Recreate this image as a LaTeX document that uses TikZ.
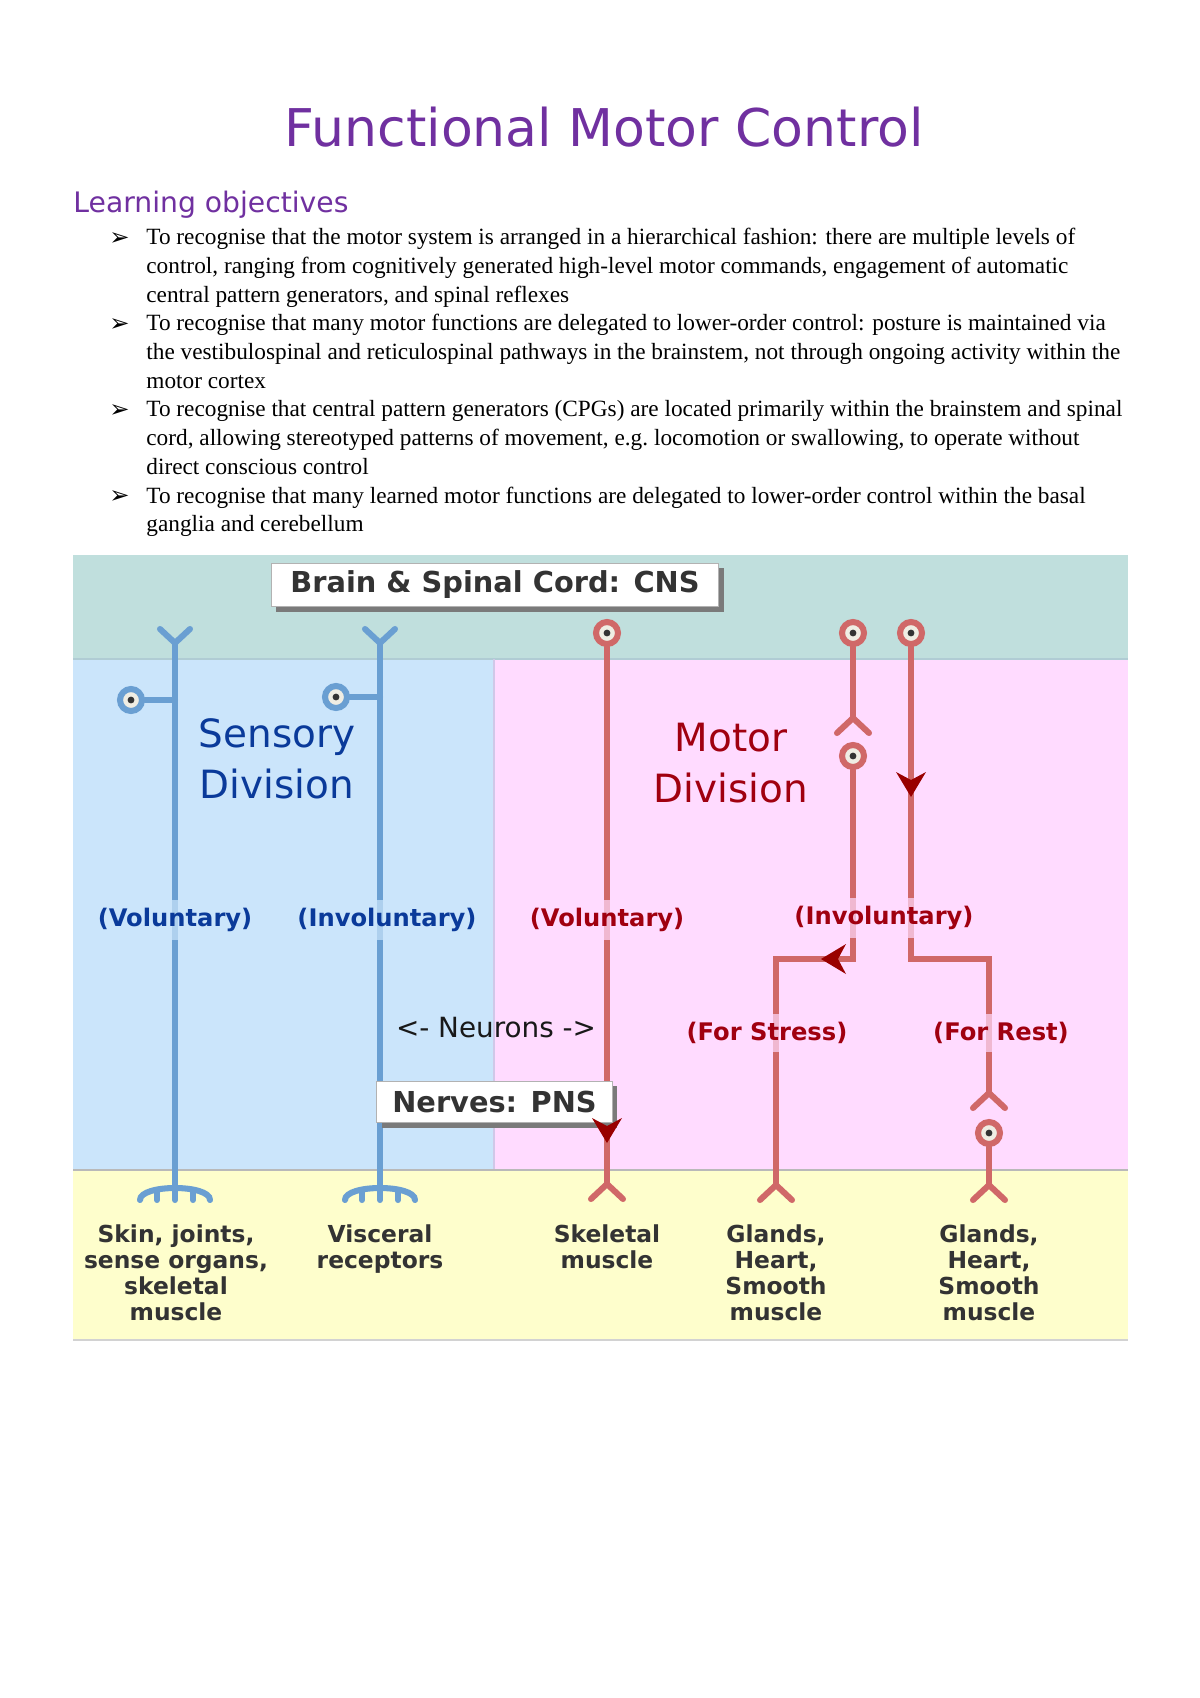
\documentclass[tikz,border=0pt]{standalone}
\usepackage{fontspec}
\setmainfont{Liberation Serif}
\newfontfamily\vsans{DejaVu Sans}
\usetikzlibrary{shadows}
\definecolor{titlepurple}{HTML}{7030A0}
\definecolor{cnsteal}{HTML}{C0DFDD}
\definecolor{sensbg}{HTML}{CBE5FB}
\definecolor{motbg}{HTML}{FFDBFF}
\definecolor{effbg}{HTML}{FEFECC}
\definecolor{sensline}{HTML}{6A9FD2}
\definecolor{motline}{HTML}{D06868}
\definecolor{arrowred}{HTML}{990000}
\definecolor{senstext}{HTML}{0A3A9A}
\definecolor{mottext}{HTML}{A00010}
\definecolor{darktext}{HTML}{333333}
\definecolor{somafill}{HTML}{EFEDE3}
\definecolor{shadowgrey}{HTML}{7A7A7A}
\definecolor{cnsedge}{HTML}{B0CCD4}
\definecolor{divedge}{HTML}{D0C8E8}
\tikzset{every node/.style={align=center}, >=latex}

\begin{document}
\begin{tikzpicture}[x=0.49607pt, y=-0.49607pt,
    sline/.style={sensline, line width=3pt, line cap=round},
    mline/.style={motline, line width=3pt, line cap=round},
    soma/.style={circle, minimum size=10.9pt, inner sep=0pt, line width=3pt, fill=somafill,
      path picture={\fill[darktext] (path picture bounding box.center) circle (1.7pt);}},
    ssoma/.style={soma, draw=sensline},
    msoma/.style={soma, draw=motline},
    tag/.style={draw=gray!60, fill=white, line width=0.5pt, inner sep=0pt, text=darktext,
      font=\vsans\bfseries\fontsize{14.3}{17}\selectfont,
      drop shadow={shadow xshift=2.5pt, shadow yshift=-2.5pt, fill=shadowgrey, opacity=1}},
    slabel/.style={font=\vsans\bfseries\fontsize{12}{14}\selectfont, text=senstext, fill=sensbg,
      fill opacity=0.7, text opacity=1, inner xsep=1pt, inner ysep=4pt},
    mlabel/.style={slabel, text=mottext, fill=motbg},
    division/.style={font=\vsans\fontsize{19.3}{25.3}\selectfont, anchor=base, inner sep=0pt},
    organ/.style={font=\vsans\bfseries\fontsize{11.6}{12.9}\selectfont, text=darktext, anchor=base, inner sep=0pt},
    objline/.style={font=\fontsize{11.55}{14.24}\selectfont, align=left, anchor=base west, inner sep=0pt},
    bullet/.style={font=\vsans\fontsize{12}{14}\selectfont, anchor=base west, inner sep=0pt},
    dendrite/.pic={\draw[sline] (-15,-14) -- (0,0) -- (15,-14);},
    receptor/.pic={\draw[sline] (-35,0) .. controls (-35,-16) and (35,-16) .. (35,0);
      \draw[sline] (-18,-10) -- (-18,0); \draw[sline] (18,-10) -- (18,0);},
    synapse/.pic={\draw[mline] (-16,15) -- (0,0) -- (16,15);},
    arrowdown/.pic={\fill[arrowred] (0,0) -- (-15,-25) -- (0,-17) -- (15,-25) -- cycle;},
    arrowleft/.pic={\fill[arrowred] (0,0) -- (25,-15) -- (17,0) -- (25,15) -- cycle;}]

  \useasboundingbox (0,0) rectangle (1200,1698);
  \fill[white] (0,0) rectangle (1200,1698);

  % heading and objectives (multi-line nodes sit on their last baseline)
  \node[font=\vsans\fontsize{25.8}{30}\selectfont, text=titlepurple, anchor=base, inner sep=0pt] (title) at (604,146) {Functional Motor Control};
  \node[font=\vsans\fontsize{14}{17}\selectfont, text=titlepurple, anchor=base west, inner sep=0pt] (objhead) at (73,212) {Learning objectives};

  \node[bullet] (bul1) at (109,245) {➢};
  \node[objline] (obj1) at (146,302.4) {To recognise that the motor system is arranged in a hierarchical fashion: there are multiple levels of\\control, ranging from cognitively generated high-level motor commands, engagement of automatic\\central pattern generators, and spinal reflexes};
  \node[bullet] (bul2) at (109,331) {➢};
  \node[objline] (obj2) at (146,388.4) {To recognise that many motor functions are delegated to lower-order control: posture is maintained via\\the vestibulospinal and reticulospinal pathways in the brainstem, not through ongoing activity within the\\motor cortex};
  \node[bullet] (bul3) at (109,417) {➢};
  \node[objline] (obj3) at (146,474.4) {To recognise that central pattern generators (CPGs) are located primarily within the brainstem and spinal\\cord, allowing stereotyped patterns of movement, e.g.\ locomotion or swallowing, to operate without\\direct conscious control};
  \node[bullet] (bul4) at (109,503) {➢};
  \node[objline] (obj4) at (146,531.7) {To recognise that many learned motor functions are delegated to lower-order control within the basal\\ganglia and cerebellum};

  % bands
  \fill[cnsteal] (73,555) rectangle (1128,659);
  \fill[sensbg] (73,659) rectangle (494,1170);
  \fill[motbg] (494,659) rectangle (1128,1170);
  \fill[effbg] (73,1170) rectangle (1128,1340);
  \draw[cnsedge, line width=0.8pt] (73,659) -- (1128,659);
  \draw[divedge, line width=0.6pt] (494,659) -- (494,1170);
  \draw[gray!55, line width=0.8pt] (73,1170) -- (1128,1170);
  \draw[gray!35, line width=1.2pt] (73,1340) -- (1128,1340);

  % sensory neurons
  \coordinate (dend1) at (175,643);
  \coordinate (dend2) at (380,643);
  \coordinate (rec1) at (175,1200);
  \coordinate (rec2) at (380,1200);
  \coordinate (join1) at (175,700);
  \coordinate (join2) at (380,697);
  \node[ssoma] (ss1) at (131,700) {};
  \node[ssoma] (ss2) at (336,697) {};
  \draw[sline] (dend1) -- (rec1);
  \draw[sline] (dend2) -- (rec2);
  \draw[sline] (ss1) -- (join1);
  \draw[sline] (ss2) -- (join2);
  \pic at (dend1) {dendrite};
  \pic at (dend2) {dendrite};
  \pic at (rec1) {receptor};
  \pic at (rec2) {receptor};

  % motor neurons
  \node[msoma] (ms1) at (607,633) {};
  \node[msoma] (ms2) at (853,633) {};
  \node[msoma] (ms3) at (853,756) {};
  \node[msoma] (ms4) at (911,633) {};
  \node[msoma] (ms5) at (989,1133) {};
  \coordinate (syn1) at (607,1184);
  \coordinate (syn2) at (853,718);
  \coordinate (bend2a) at (853,959);
  \coordinate (bend2b) at (776,959);
  \coordinate (syn3) at (776,1185);
  \coordinate (bend4a) at (911,959);
  \coordinate (bend4b) at (989,959);
  \coordinate (syn4) at (989,1093);
  \coordinate (syn5) at (989,1185);
  \draw[mline] (ms1) -- (syn1);
  \draw[mline] (ms2) -- (syn2);
  \draw[mline] (ms3) -- (bend2a) -- (bend2b) -- (syn3);
  \draw[mline] (ms4) -- (bend4a) -- (bend4b) -- (syn4);
  \draw[mline] (ms5) -- (syn5);
  \pic at (syn1) {synapse};
  \pic at (syn2) {synapse};
  \pic at (syn3) {synapse};
  \pic at (syn4) {synapse};
  \pic at (syn5) {synapse};

  % labels over the fibres
  \node[slabel] (svol) at (175,920) {(Voluntary)};
  \node[slabel] (sinv) at (387,920) {(Involuntary)};
  \node[mlabel] (mvol) at (607,920) {(Voluntary)};
  \node[mlabel] (minv) at (884,918) {(Involuntary)};
  \node[mlabel] (stress) at (767,1033) {(For Stress)};
  \node[mlabel] (rest) at (1001,1033) {(For Rest)};

  \node[division, text=senstext] (sdiv) at (277,798) {Sensory\\Division};
  \node[division, text=mottext] (mdiv) at (731,802) {Motor\\Division};
  \node[font=\vsans\fontsize{13.8}{16}\selectfont, text=black!90, anchor=base, inner sep=0pt] (neurons) at (496,1037) {<- Neurons ->};

  \node[tag, minimum width=222.2pt, minimum height=21.8pt] (cns) at (495,585) {Brain \& Spinal Cord: CNS};
  \node[tag, minimum width=116.6pt, minimum height=20.8pt] (pns) at (494.5,1102) {Nerves: PNS};

  \pic at (607,1143) {arrowdown};
  \pic at (911,797) {arrowdown};
  \pic at (821,959) {arrowleft};

  % target organs
  \node[organ] (org1) at (176,1320) {Skin, joints,\\sense organs,\\skeletal\\muscle};
  \node[organ] (org2) at (380,1268) {Visceral\\receptors};
  \node[organ] (org3) at (607,1268) {Skeletal\\muscle};
  \node[organ] (org4) at (776,1320) {Glands,\\Heart,\\Smooth\\muscle};
  \node[organ] (org5) at (989,1320) {Glands,\\Heart,\\Smooth\\muscle};
\end{tikzpicture}
\end{document}
